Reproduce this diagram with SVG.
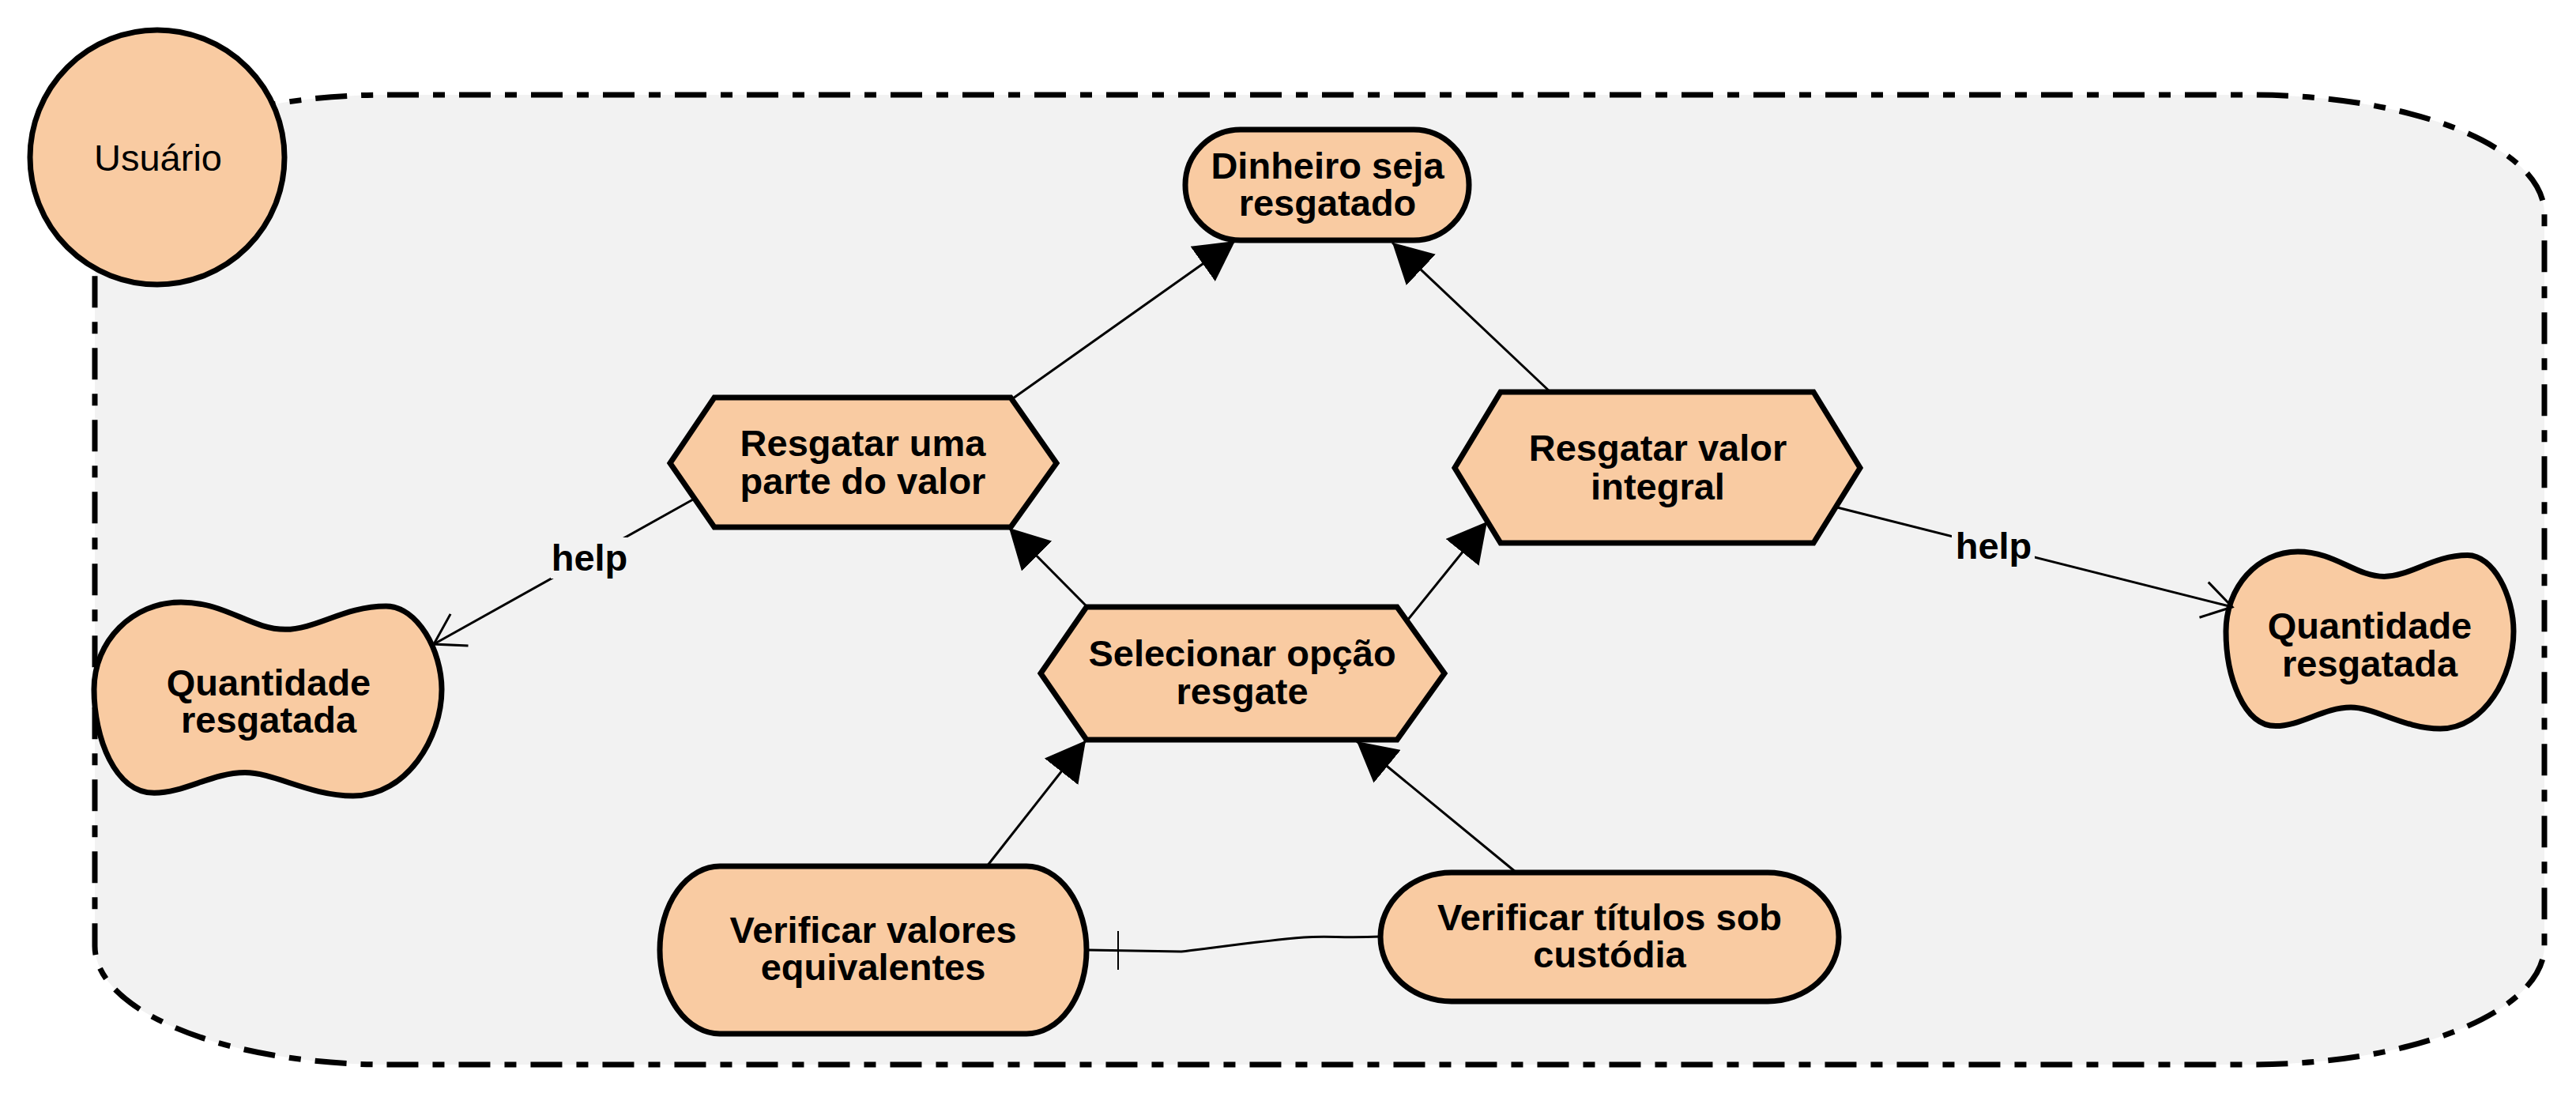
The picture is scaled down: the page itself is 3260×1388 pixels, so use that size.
<svg xmlns="http://www.w3.org/2000/svg" width="3260" height="1388" viewBox="0 0 3260 1388">
<style>
.bnd{fill:#f2f2f2;stroke:#000;stroke-width:7;stroke-dasharray:40 18 15 18}
.nd{fill:#f9cba2;stroke:#000;stroke-width:7}
.t{font-family:"Liberation Sans",Arial,sans-serif;font-size:47px;font-weight:bold;text-anchor:middle;fill:#000}
.tn{font-weight:normal}
.ln{fill:none;stroke:#000;stroke-width:3}
.lbl{fill:#f2f2f2;stroke:none}
</style>
<defs>
<marker id="block" markerUnits="userSpaceOnUse" viewBox="0 0 50 54" refX="50" refY="27" markerWidth="50" markerHeight="54" orient="auto">
<path d="M0,0 L50,27 L0,54 Z" fill="#000"/>
</marker>
<marker id="open" markerUnits="userSpaceOnUse" viewBox="-4 -4 46 54" refX="37" refY="23" markerWidth="46" markerHeight="54" orient="auto" overflow="visible">
<path d="M0,0 L37,23 L0,46" fill="none" stroke="#000" stroke-width="3"/>
</marker>
</defs>
<rect width="3260" height="1388" fill="#fff"/>
<g id="boundary">
<rect class="bnd" x="120" y="120" width="3100" height="1227" rx="370" ry="150"/>
</g>
<g id="usuario">
<circle class="nd" cx="199" cy="199" r="161"/>
<text class="t tn" x="200" y="216">Usuário</text>
</g>
<g id="dinheiro">
<rect class="nd" x="1500" y="164" width="359" height="140" rx="70" ry="70"/>
<text class="t" x="1680" y="226">Dinheiro seja</text>
<text class="t" x="1680" y="273">resgatado</text>
</g>
<g id="resgatar-parte">
<polygon class="nd" points="904,503 1279,503 1337,586 1279,667 904,667 848,586"/>
<text class="t" x="1092" y="577">Resgatar uma</text>
<text class="t" x="1092" y="625">parte do valor</text>
</g>
<g id="resgatar-integral">
<polygon class="nd" points="1899,496 2295,496 2354,592 2295,687 1899,687 1841,592"/>
<text class="t" x="2098" y="583">Resgatar valor</text>
<text class="t" x="2098" y="632">integral</text>
</g>
<g id="selecionar">
<polygon class="nd" points="1375,768 1768,768 1828,852 1768,936 1375,936 1317,852"/>
<text class="t" x="1572" y="843">Selecionar opção</text>
<text class="t" x="1572" y="891">resgate</text>
</g>
<g id="quantidade-esq">
<path class="nd" d="M119,872.3 C119,811 167.4,762 229,762 C286.2,762 317,796.3 361,796.3 C400.6,796.3 435.8,766.9 488.6,766.9 C528.2,766.9 559,823.3 559,872.3 C559,933.5 515,1007 446.8,1007 C391.8,1007 347.8,977.6 310,977.6 C268.6,977.6 233.4,1003.3 195.1,1003.3 C145.4,1003.3 119,933.5 119,872.3 Z"/>
<text class="t" x="340" y="880">Quantidade</text>
<text class="t" x="340" y="927">resgatada</text>
</g>
<g id="quantidade-dir">
<path class="nd" d="M2817,798.8 C2817,742.8 2857,698 2908,698 C2955.3,698 2980.8,729.4 3017.2,729.4 C3050,729.4 3079.1,702.5 3122.8,702.5 C3155.5,702.5 3181,754 3181,798.8 C3181,854.8 3144.6,922 3088.2,922 C3042.7,922 3006.3,895.1 2975,895.1 C2940.8,895.1 2911.6,918.6 2880,918.6 C2838.8,918.6 2817,854.8 2817,798.8 Z"/>
<text class="t" x="2999" y="808">Quantidade</text>
<text class="t" x="2999" y="856">resgatada</text>
</g>
<g id="verificar-valores">
<rect class="nd" x="835" y="1096" width="540" height="212" rx="76" ry="106"/>
<text class="t" x="1105" y="1193">Verificar valores</text>
<text class="t" x="1105" y="1240">equivalentes</text>
</g>
<g id="verificar-titulos">
<rect class="nd" x="1747" y="1104" width="580" height="163" rx="90" ry="81.5"/>
<text class="t" x="2037" y="1177">Verificar títulos sob</text>
<text class="t" x="2037" y="1224">custódia</text>
</g>
<g id="connectors">
<line class="ln" x1="1282" y1="504" x2="1563" y2="305" marker-end="url(#block)"/>
<line class="ln" x1="1962" y1="496" x2="1762" y2="307" marker-end="url(#block)"/>
<line class="ln" x1="1374" y1="766" x2="1277" y2="668" marker-end="url(#block)"/>
<line class="ln" x1="1781" y1="785" x2="1882" y2="660" marker-end="url(#block)"/>
<line class="ln" x1="1249" y1="1096" x2="1374" y2="937" marker-end="url(#block)"/>
<line class="ln" x1="1919" y1="1104" x2="1717" y2="938" marker-end="url(#block)"/>
<line class="ln" x1="877" y1="632" x2="549" y2="815" marker-end="url(#open)"/>
<rect class="lbl" x="697" y="680" width="99" height="52"/>
<text class="t" x="746" y="722">help</text>
<line class="ln" x1="2325" y1="642" x2="2825" y2="768" marker-end="url(#open)"/>
<rect class="lbl" x="2470" y="665" width="105" height="52"/>
<text class="t" x="2523" y="707">help</text>
<path class="ln" d="M1377,1202 L1495,1204 C1530,1200 1600,1190 1650,1186 C1680,1184 1700,1187 1747,1185"/>
<line x1="1415" y1="1178" x2="1415" y2="1227" stroke="#000" stroke-width="2"/>
</g>
</svg>
